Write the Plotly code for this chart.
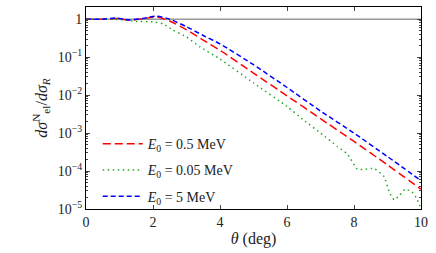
import plotly.graph_objects as go

# Data (theta in degrees, log10 of ratio)
theta_red = [0, 0.5, 0.9, 1.3, 1.7, 2.1, 2.5, 3.0, 3.5, 4.0, 5.0, 6.0, 7.0, 8.0, 9.0, 10.0]
logy_red = [0, 0.0, 0.02, -0.03, 0.01, 0.06, -0.05, -0.28, -0.55, -0.82, -1.42, -2.02, -2.62, -3.22, -3.84, -4.48]

theta_blue = [0, 0.5, 0.9, 1.3, 1.7, 2.1, 2.5, 3.0, 3.5, 4.0, 5.0, 6.0, 7.0, 8.0, 9.0, 10.0]
logy_blue = [0, 0.0, 0.03, -0.02, 0.02, 0.08, 0.0, -0.2, -0.43, -0.65, -1.2, -1.8, -2.42, -3.0, -3.62, -4.25]

theta_green = [0, 0.5, 1.0, 1.5, 2.0, 2.3, 2.6, 3.0, 3.4, 4.0, 5.0, 6.0, 6.5, 7.0, 7.5, 7.8, 8.1, 8.3, 8.6, 8.9, 9.05, 9.2, 9.37, 9.52, 9.72, 9.87, 10.0]
logy_green = [0, 0.0, -0.01, -0.06, -0.07, -0.12, -0.29, -0.47, -0.73, -1.05, -1.68, -2.3, -2.66, -3.0, -3.35, -3.55, -3.95, -3.96, -3.93, -4.15, -4.55, -4.76, -4.63, -4.48, -4.54, -4.72, -5.0]

ytick_vals = [1, 1e-1, 1e-2, 1e-3, 1e-4, 1e-5]
ytick_text = ["1", "10<sup>−1</sup>", "10<sup>−2</sup>", "10<sup>−3</sup>", "10<sup>−4</sup>", "10<sup>−5</sup>"]
xtick_vals = [0, 2, 4, 6, 8, 10]

red = [10 ** v for v in logy_red]
blue = [10 ** v for v in logy_blue]
green = [10 ** v for v in logy_green]

minor_vals = [m * 10 ** e for e in range(-5, 1) for m in range(2, 10)]

font_family = "Liberation Serif, DejaVu Serif, serif"

fig = go.Figure()
fig.add_trace(go.Scatter(x=[0, 10], y=[1, 1], mode="lines",
                         line=dict(color="#999999", width=1.5), showlegend=False, hoverinfo="skip"))
fig.add_trace(go.Scatter(x=theta_red, y=red, mode="lines", name="<i>E</i><sub>0</sub> = 0.5 MeV",
                         legendgroup="a",
                         line=dict(color="#ff0000", width=1.5, dash="8px,4px", shape="spline", smoothing=0.6)))
fig.add_trace(go.Scatter(x=theta_green, y=green, mode="lines", name="<i>E</i><sub>0</sub> = 0.05 MeV",
                         legendgroup="b",
                         line=dict(color="#22aa22", width=1.5, dash="1.5px,3.5px", shape="spline", smoothing=0.4)))
fig.add_trace(go.Scatter(x=theta_blue, y=blue, mode="lines", name="<i>E</i><sub>0</sub> = 5 MeV",
                         legendgroup="c",
                         line=dict(color="#0000ff", width=1.5, dash="5px,3px", shape="spline", smoothing=0.6)))

fig.update_layout(
    width=436, height=253,
    margin=dict(l=86, r=15, t=7, b=44),
    paper_bgcolor="white", plot_bgcolor="white",
    font=dict(family=font_family, size=14, color="#222222"),
    showlegend=True,
    legend=dict(x=0.035, y=0.40, xanchor="left", yanchor="top", bgcolor="rgba(0,0,0,0)",
                font=dict(size=14), itemwidth=40, tracegroupgap=5),
    xaxis=dict(range=[0, 10], tickvals=xtick_vals, ticks="inside", ticklen=4, mirror="ticks",
               showline=True, linecolor="black", linewidth=1, showgrid=False, zeroline=False,
               title=dict(text="<i>θ</i> (deg)", font=dict(size=16), standoff=4),
               tickfont=dict(size=14)),
    yaxis=dict(type="log", range=[-5, 0.32], tickvals=ytick_vals, ticktext=ytick_text,
               ticks="inside", ticklen=4, mirror="ticks", showline=True, linecolor="black", linewidth=1,
               showgrid=False, zeroline=False,
               minor=dict(tickmode="array", tickvals=minor_vals, ticks="inside", ticklen=2, showgrid=False),
               title=dict(text="<i>dσ</i><sup>N</sup><sub>el</sub>/<i>dσ</i><sub><i>R</i></sub>", font=dict(size=16), standoff=6),
               tickfont=dict(size=14)),
)

fig.write_html("out.html", config={"displayModeBar": False},
               post_script="document.body.style.margin='0px';")
